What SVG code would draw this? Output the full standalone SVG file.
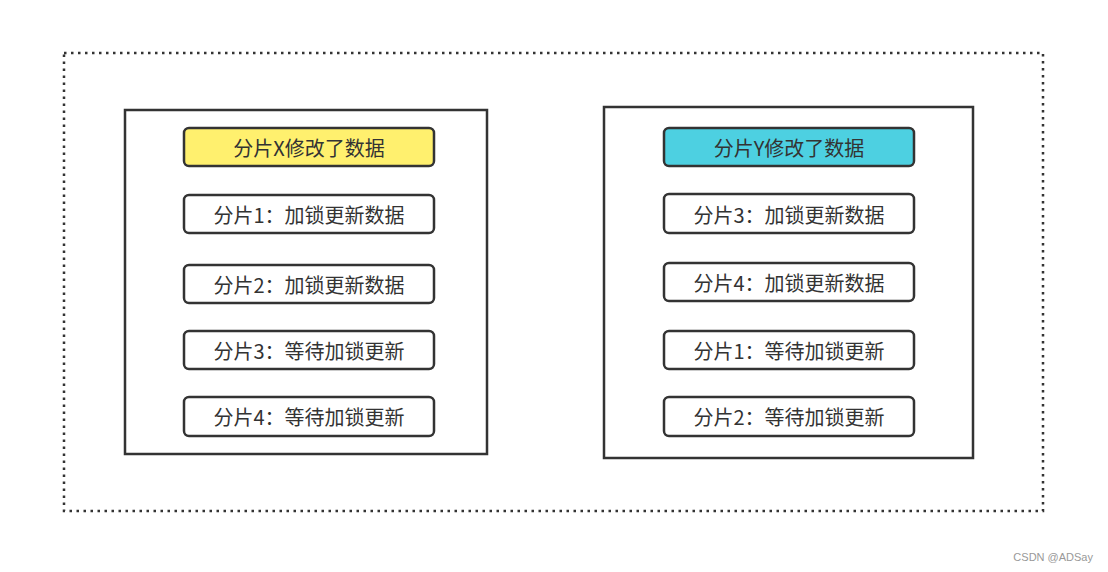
<svg xmlns="http://www.w3.org/2000/svg" width="1108" height="572" viewBox="0 0 1108 572">
  <style>
    .frame { fill: none; stroke: #333; stroke-width: 2.5; stroke-dasharray: 2.5 4.5; }
    .panel { fill: #fff; stroke: #333; stroke-width: 2.5; }
    .pill { fill: #fff; stroke: #333; stroke-width: 2.5; }
    .pill.x { fill: #fff06e; }
    .pill.y { fill: #4dd0e1; }
    .label { font-family: "Noto Sans CJK SC", "Microsoft YaHei", sans-serif; font-size: 20px; fill: #333; text-anchor: middle; dominant-baseline: central; }
    .mark { font-family: "Liberation Sans", Arial, sans-serif; font-size: 11px; fill: #999; text-anchor: end; }
  </style>
  <rect width="1108" height="572" fill="#fff"/>

  <!-- outer dotted frame -->
  <rect id="frame" class="frame" x="64" y="53" width="979" height="458"/>

  <!-- left panel: shard X -->
  <g id="panel-x">
    <rect class="panel" x="125" y="110" width="362" height="344"/>
  </g>
  <g id="x-title"><rect class="pill x" x="184" y="128" width="250" height="38" rx="5"/><text class="label" x="309" y="147">分片X修改了数据</text></g>
  <g id="x-1"><rect class="pill" x="184" y="195" width="250" height="38" rx="5"/><text class="label" x="309" y="214">分片1：加锁更新数据</text></g>
  <g id="x-2"><rect class="pill" x="184" y="265" width="250" height="38" rx="5"/><text class="label" x="309" y="284">分片2：加锁更新数据</text></g>
  <g id="x-3"><rect class="pill" x="184" y="331" width="250" height="38" rx="5"/><text class="label" x="309" y="350">分片3：等待加锁更新</text></g>
  <g id="x-4"><rect class="pill" x="184" y="397" width="250" height="39" rx="5"/><text class="label" x="309" y="416">分片4：等待加锁更新</text></g>

  <!-- right panel: shard Y -->
  <g id="panel-y">
    <rect class="panel" x="604" y="107" width="369" height="351"/>
  </g>
  <g id="y-title"><rect class="pill y" x="664" y="128" width="250" height="38" rx="5"/><text class="label" x="789" y="147">分片Y修改了数据</text></g>
  <g id="y-3"><rect class="pill" x="664" y="194" width="250" height="39" rx="5"/><text class="label" x="789" y="214">分片3：加锁更新数据</text></g>
  <g id="y-4"><rect class="pill" x="664" y="263" width="250" height="38" rx="5"/><text class="label" x="789" y="282">分片4：加锁更新数据</text></g>
  <g id="y-1"><rect class="pill" x="664" y="331" width="250" height="38" rx="5"/><text class="label" x="789" y="350">分片1：等待加锁更新</text></g>
  <g id="y-2"><rect class="pill" x="664" y="397" width="250" height="39" rx="5"/><text class="label" x="789" y="416">分片2：等待加锁更新</text></g>

  <g id="connectors"></g>

  <text class="mark" x="1093" y="561">CSDN @ADSay</text>
</svg>
